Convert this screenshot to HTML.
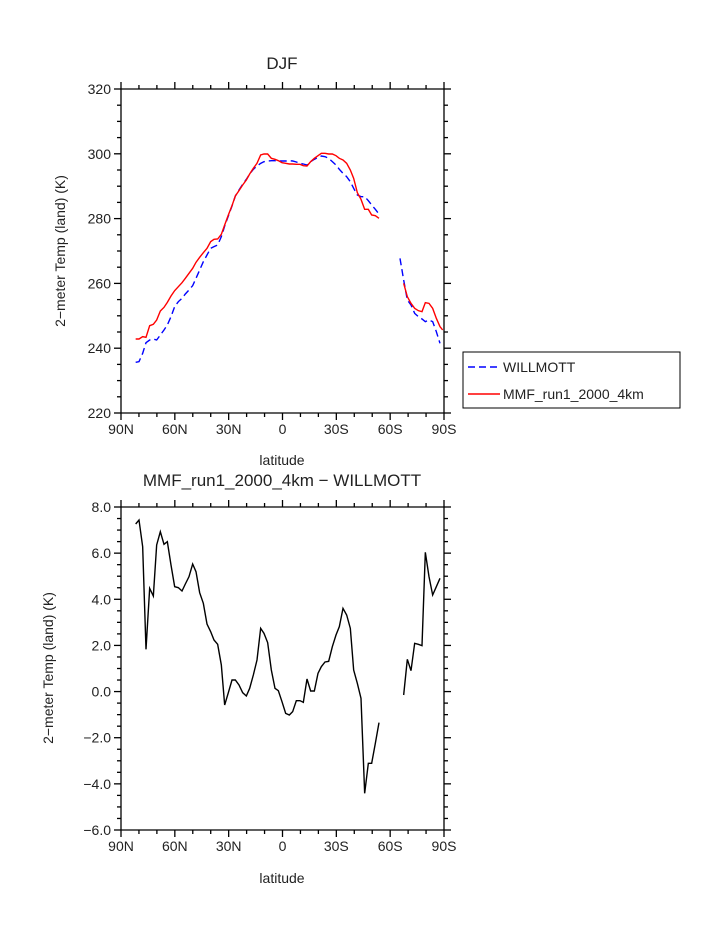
<!DOCTYPE html>
<html><head><meta charset="utf-8"><style>
html,body{margin:0;padding:0;background:#fff;}
svg{display:block;}
text{font-family:"Liberation Sans",sans-serif;fill:#222;}
</style></head><body>
<svg id="s" width="723" height="935" viewBox="0 0 723 935" xmlns="http://www.w3.org/2000/svg">
<text x="282" y="69" font-size="17" text-anchor="middle">DJF</text>
<text x="282" y="486" font-size="17" text-anchor="middle">MMF_run1_2000_4km − WILLMOTT</text>
<text x="282" y="465" font-size="14" text-anchor="middle">latitude</text>
<text x="282" y="883" font-size="14" text-anchor="middle">latitude</text>
<text transform="translate(65,251) rotate(-90)" font-size="14" text-anchor="middle">2−meter Temp (land) (K)</text>
<text transform="translate(53,668) rotate(-90)" font-size="14" text-anchor="middle">2−meter Temp (land) (K)</text>
<g id="axes" stroke="#000" stroke-width="1.3" fill="none"></g>
<g id="labels" font-size="14"></g>
<g transform="translate(115,140) scale(0.33333)" fill="none" stroke-width="1.4">
<polyline vector-effect="non-scaling-stroke" stroke="#0000ff" stroke-dasharray="7,4" points="62,667 72,665 83,640 93,608 104,600 115,597 125,600 136,585 147,570 157,555 168,530 179,500 190,485 201,475 211,462 222,450 233,437 243,415 254,390 265,365 276,345 287,325 297,320 308,315 319,290 329,258 340,228 351,198 361,168 372,150 383,133 394,118 404,102 415,88 426,78 437,70 447,65 458,63 469,62 480,62 490,63 501,63 512,63 523,62 533,63 544,66 555,70 565,72 576,75 587,65 598,58 609,52 619,48 630,50 641,55 652,65 663,75 673,88 684,100 695,110 706,125 716,145 727,165 738,170 749,170 760,182 770,195 781,208 792,222"/>
<polyline vector-effect="non-scaling-stroke" stroke="#0000ff" stroke-dasharray="7,4" points="855,355 866,420 877,480 888,495 899,520 910,530 921,537 931,545 942,540 953,545 964,575 975,610"/>
<polyline vector-effect="non-scaling-stroke" stroke="#ff0000" points="62,597 72,597 83,590 93,592 104,557 115,553 125,540 136,513 147,502 157,487 168,468 179,452 190,440 201,428 211,415 222,400 233,385 243,367 254,352 265,338 276,325 287,305 297,298 308,297 319,283 329,255 340,225 351,197 361,168 372,152 383,135 394,120 404,102 415,85 426,70 437,45 447,42 458,42 469,55 480,58 490,62 501,68 512,70 523,72 533,72 544,73 555,73 565,77 576,78 587,65 598,55 609,47 619,40 630,40 641,42 652,42 663,47 673,55 684,60 695,70 706,90 716,115 727,158 738,178 749,208 760,208 770,225 781,227 792,235"/>
<polyline vector-effect="non-scaling-stroke" stroke="#ff0000" points="866,430 877,470 888,490 899,505 910,512 921,515 931,488 942,490 953,505 964,535 975,560 983,570"/>
</g>
<g transform="translate(115,500) scale(0.33333)" fill="none" stroke="#000" stroke-width="1.4">
<polyline vector-effect="non-scaling-stroke" points="62,72 72,60 83,140 93,448 104,265 115,288 125,135 136,95 147,133 157,125 168,195 179,260 190,263 201,273 211,252 222,230 233,192 243,215 254,278 265,310 276,372 287,395 297,420 308,433 319,495 329,615 340,578 351,540 361,540 372,555 383,578 394,588 404,565 415,525 426,480 437,385 447,400 458,428 469,510 480,565 490,572 501,605 512,640 523,645 533,635 544,602 555,602 565,607 576,537 587,573 598,573 609,520 619,500 630,486 641,484 652,440 663,405 673,380 684,325 695,345 706,385 716,510 727,550 738,595 749,880 760,790 770,790 781,730 792,668"/>
<polyline vector-effect="non-scaling-stroke" points="866,585 877,478 888,512 899,430 910,433 921,437 931,157 942,230 953,285 964,260 975,235"/>
</g>
<rect x="463" y="352" width="217" height="56" fill="none" stroke="#000" stroke-width="1"/>
<line x1="468" y1="367" x2="500" y2="367" stroke="#0000ff" stroke-width="1.4" stroke-dasharray="7,4"/>
<line x1="468" y1="394" x2="500" y2="394" stroke="#ff0000" stroke-width="1.4"/>
<text x="503" y="372" font-size="14">WILLMOTT</text>
<text x="503" y="399" font-size="14">MMF_run1_2000_4km</text>
</svg>
<script>
var ax=document.getElementById('axes'),lb=document.getElementById('labels'),NS='http://www.w3.org/2000/svg';
function L(x1,y1,x2,y2){var l=document.createElementNS(NS,'line');l.setAttribute('x1',x1);l.setAttribute('y1',y1);l.setAttribute('x2',x2);l.setAttribute('y2',y2);ax.appendChild(l);}
function T(x,y,s,a){var t=document.createElementNS(NS,'text');t.setAttribute('x',x);t.setAttribute('y',y);t.setAttribute('text-anchor',a);t.textContent=s;lb.appendChild(t);}
var X0=121,X1=444,xl=['90N','60N','30N','0','30S','60S','90S'];
function panel(top,bot,ymin,ymax,maj,minr,fmt){
 L(X0,top,X1,top);L(X0,bot,X1,bot);L(X0,top,X0,bot);L(X1,top,X1,bot);
 for(var i=0;i<=18;i++){var x=X0+(X1-X0)*i/18,m=i%3==0,len=m?7:4;L(x,top,x,top-len);L(x,bot,x,bot+len);if(m)T(x,bot+21,xl[i/3],'middle');}
 var n=Math.round((ymax-ymin)/minr);
 for(var j=0;j<=n;j++){var v=ymin+j*minr,y=bot-(bot-top)*j/n,m=Math.abs(v/maj-Math.round(v/maj))<1e-6,len=m?7:4;L(X0,y,X0-len,y);L(X1,y,X1+len,y);if(m)T(X0-10,y+5,fmt(v),'end');}
}
panel(89,413,220,320,20,5,function(v){return Math.round(v)+'';});
panel(507,830,-6,8,2,0.5,function(v){return (v<0?'−':'')+Math.abs(v).toFixed(1);});
</script>
</body></html>
